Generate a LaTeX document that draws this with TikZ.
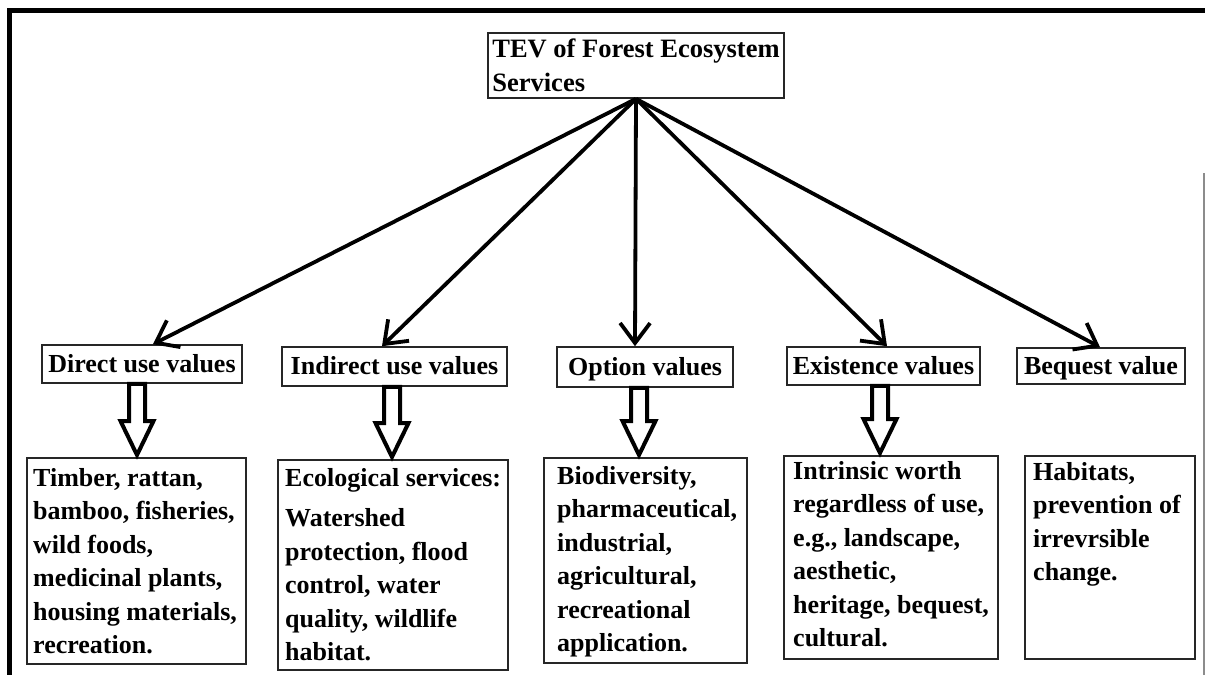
\documentclass[tikz,border=0pt]{standalone}
\usepackage{fontspec}
\setmainfont{Liberation Serif}
\usetikzlibrary{arrows.meta,calc}

\tikzset{
  frame/.style={draw=black!85, line width=1.6pt},
  lbl/.style={frame, font=\bfseries\fontsize{26}{33}\selectfont, inner sep=0pt,
    text height=18pt, text depth=2pt},
  body/.style={font=\bfseries\fontsize{26}{33.5}\selectfont, inner sep=0pt,
    text width=240pt, align=flush left, anchor=base west},
  spoke/.style={line width=3.8pt, -{Straight Barb[length=20pt,width=30pt]}},
  hollow/.style={draw=black, fill=white, line width=4pt, line join=miter},
}

% open block arrow: #1 centre x, #2 upper node, #3 lower node
\newcommand\hollowarrow[3]{%
  \draw[hollow] let \p1=(#2.south), \p2=(#3.north) in
    ({#1pt-8pt},\y1) -- ({#1pt-8pt},{\y2+36pt}) -- ({#1pt-16.5pt},{\y2+36pt})
    -- (#1pt,{\y2+2pt}) -- ({#1pt+16.5pt},{\y2+36pt}) -- ({#1pt+8pt},{\y2+36pt})
    -- ({#1pt+8pt},\y1) -- cycle;}

\begin{document}
\begin{tikzpicture}[x=1pt,y=-1pt]
\useasboundingbox (0,0) rectangle (1205,675);

% page frame
\draw[line width=5pt] (9.5,10.5) -- (1205,10.5);
\draw[line width=5pt] (9.5,8) -- (9.5,675);
\draw[black!45, line width=1.2pt] (1204,173) -- (1204,675);

% root
\node[frame, minimum width=296pt, minimum height=65pt, inner sep=0pt,
  align=flush left, font=\bfseries\fontsize{26.5}{34}\selectfont] (tev) at (636,65.5)
  {TEV of Forest Ecosystem\\Services};

% value categories
\node[lbl, minimum width=200pt, minimum height=38pt] (dir) at (142,364) {Direct use values};
\node[lbl, minimum width=225pt, minimum height=39pt] (ind) at (394.5,366.5) {Indirect use values};
\node[lbl, minimum width=176pt, minimum height=40pt] (opt) at (645,367) {Option values};
\node[lbl, minimum width=193pt, minimum height=38pt] (exi) at (883.5,366) {Existence values};
\node[lbl, minimum width=168pt, minimum height=36pt] (beq) at (1101,366) {Bequest value};

% spokes from the root
\draw[spoke] (tev.south) -- ([xshift=11pt]dir.north);
\draw[spoke] (tev.south) -- ([xshift=-12.5pt]ind.north);
\draw[spoke] (tev.south) -- ([xshift=-10pt]opt.north);
\draw[spoke] (tev.south) -- ([xshift=3.5pt]exi.north);
\draw[spoke] (tev.south) -- ([xshift=-1pt]beq.north);

% example boxes
\node[frame, minimum width=219pt, minimum height=206pt, anchor=north west, inner sep=0pt] (dirb) at (26,457) {};
\node[frame, minimum width=230pt, minimum height=210pt, anchor=north west, inner sep=0pt] (indb) at (277,459) {};
\node[frame, minimum width=203pt, minimum height=205pt, anchor=north west, inner sep=0pt] (optb) at (543,457) {};
\node[frame, minimum width=214pt, minimum height=203pt, anchor=north west, inner sep=0pt] (exib) at (783,455) {};
\node[frame, minimum width=170pt, minimum height=203pt, anchor=north west, inner sep=0pt] (beqb) at (1024,455) {};

\node[body] (dirt) at (33,486) {Timber, rattan,\\bamboo, fisheries,\\wild foods,\\medicinal plants,\\housing materials,\\recreation.};
\node[body] (indt) at (285,486) {Ecological services:\\[7pt]Watershed\\protection, flood\\control, water\\quality, wildlife\\habitat.};
\node[body] (optt) at (557,484) {Biodiversity,\\pharmaceutical,\\industrial,\\agricultural,\\recreational\\application.};
\node[body] (exit) at (793,479) {Intrinsic worth\\regardless of use,\\e.g., landscape,\\aesthetic,\\heritage, bequest,\\cultural.};
\node[body] (beqt) at (1033,480) {Habitats,\\prevention of\\irrevrsible\\change.};

% open arrows down to the examples
\hollowarrow{137}{dir}{dirb}
\hollowarrow{392}{ind}{indb}
\hollowarrow{639}{opt}{optb}
\hollowarrow{880}{exi}{exib}
\end{tikzpicture}
\end{document}
